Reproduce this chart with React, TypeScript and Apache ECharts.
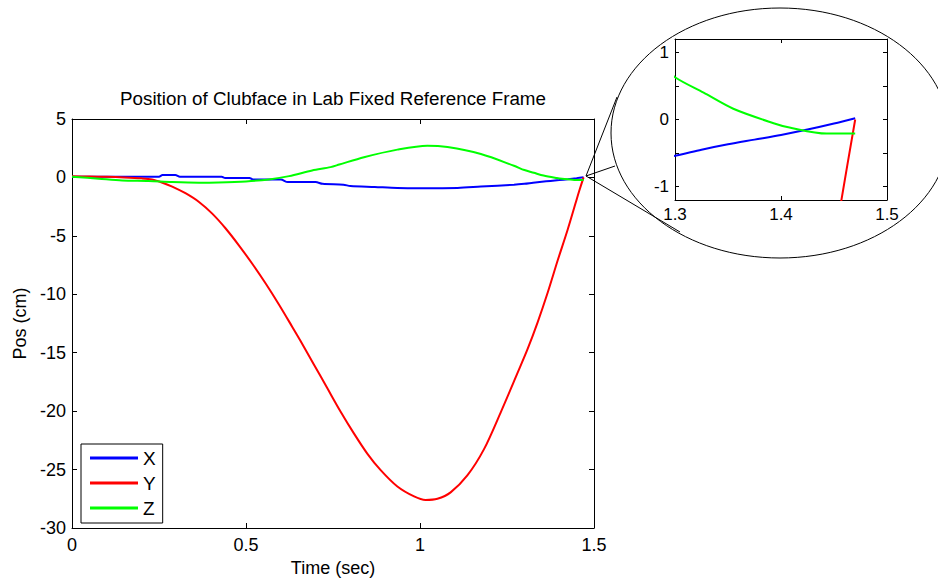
import React, { useEffect, useRef } from "react";
import * as echarts from "echarts";

// ---- Data ----
const seriesNames = ["X", "Y", "Z"];

const timeX = [0, 0.1, 0.2, 0.25, 0.26, 0.297, 0.31, 0.43, 0.44, 0.51, 0.52, 0.6, 0.62, 0.7, 0.72, 0.78, 0.8, 0.87, 0.935, 1.0, 1.108, 1.175, 1.27, 1.3, 1.325, 1.35, 1.375, 1.4, 1.425, 1.45, 1.47];
const posX = [0.06, 0.06, 0.06, 0.06, 0.2, 0.2, 0.06, 0.06, -0.05, -0.05, -0.17, -0.17, -0.4, -0.4, -0.55, -0.62, -0.74, -0.82, -0.9, -0.92, -0.9, -0.78, -0.62, -0.54, -0.45, -0.37, -0.3, -0.23, -0.15, -0.06, 0.02];

const timeY = [0, 0.05, 0.1, 0.15, 0.2, 0.23, 0.26, 0.288, 0.326, 0.365, 0.403, 0.441, 0.48, 0.518, 0.557, 0.595, 0.633, 0.656, 0.695, 0.733, 0.772, 0.81, 0.849, 0.887, 0.935, 0.983, 1.016, 1.05, 1.088, 1.136, 1.184, 1.232, 1.28, 1.309, 1.338, 1.367, 1.396, 1.424, 1.448, 1.457, 1.47];
const posY = [0.1, 0.08, 0.05, 0, -0.08, -0.18, -0.45, -0.78, -1.35, -2.1, -3.1, -4.35, -5.83, -7.39, -9.1, -10.89, -12.79, -13.96, -16.0, -18.0, -20.05, -21.9, -23.65, -25.05, -26.45, -27.3, -27.6, -27.5, -26.95, -25.5, -23.25, -20.1, -16.75, -14.7, -12.4, -9.85, -7.07, -4.5, -2.1, -1.2, 0.0];

const timeZ = [0, 0.077, 0.144, 0.22, 0.288, 0.365, 0.42, 0.5, 0.566, 0.624, 0.69, 0.743, 0.768, 0.839, 0.935, 1.021, 1.079, 1.175, 1.27, 1.3, 1.327, 1.355, 1.393, 1.408, 1.443, 1.47];
const posZ = [0.06, -0.11, -0.26, -0.31, -0.4, -0.45, -0.43, -0.34, -0.17, 0.11, 0.6, 0.88, 1.1, 1.73, 2.38, 2.72, 2.6, 2.0, 1.0, 0.63, 0.4, 0.16, -0.055, -0.12, -0.21, -0.21];

const mainXTicks = { min: 0, max: 1.5, interval: 0.5 };
const mainYTicks = { min: -30, max: 5, interval: 5 };
const insetXTicks = { min: 1.3, max: 1.5, interval: 0.1 };
const insetYRange = { min: -1.2, max: 1.2 };
const insetYTickValues = [-1, -0.5, 0, 0.5, 1];
const insetYLabelValues = [-1, 0, 1];

const colors = ["#0000ff", "#ff0000", "#00ff00"];

const FONT = "'Liberation Sans', Arial, Helvetica, sans-serif";

function pairs(t: number[], v: number[]) {
  return t.map((x, i) => [x, v[i]]);
}

export default function App() {
  const ref = useRef<HTMLDivElement>(null);
  useEffect(() => {
    if (!ref.current) return;
    const chart = echarts.init(ref.current, undefined, { renderer: "svg" });
    const datasets = [pairs(timeX, posX), pairs(timeY, posY), pairs(timeZ, posZ)];

    const axisLine = { show: true, onZero: false, lineStyle: { color: "#000", width: 1 } };
    const tick = (len: number) => ({ show: true, inside: true, length: len, lineStyle: { color: "#000", width: 1 } });
    const label = (size: number, margin: number) => ({ color: "#000", fontSize: size, fontFamily: FONT, margin });

    const mainSeries = datasets.map((d, i) => ({
      name: seriesNames[i],
      type: "line",
      xAxisIndex: 0,
      yAxisIndex: 0,
      data: d,
      showSymbol: false,
      smooth: 0.3,
      color: colors[i],
      lineStyle: { color: colors[i], width: 2 },
      z: 2 + i,
    }));
    const insetSeries = datasets.map((d, i) => ({
      name: seriesNames[i],
      type: "line",
      xAxisIndex: 2,
      yAxisIndex: 2,
      data: d,
      showSymbol: false,
      smooth: 0.3,
      clip: true,
      color: colors[i],
      lineStyle: { color: colors[i], width: 2 },
      z: 12 + i,
    }));

    chart.setOption({
      animation: false,
      backgroundColor: "#fff",
      title: {
        text: "Position of Clubface in Lab Fixed Reference Frame",
        left: 333,
        top: 89,
        padding: 0,
        textAlign: "center",
        textStyle: { color: "#000", fontSize: 18.8, fontWeight: "normal", fontFamily: FONT },
      },
      legend: {
        data: seriesNames,
        orient: "vertical",
        left: 81,
        top: 444,
        icon: "rect",
        itemWidth: 48,
        itemHeight: 3,
        itemGap: 5,
        padding: [4, 7, 5, 9],
        borderColor: "#000",
        borderWidth: 1,
        backgroundColor: "#fff",
        textStyle: { color: "#000", fontSize: 19, fontFamily: FONT, lineHeight: 20 },
      },
      grid: [
        { left: 72, top: 119, width: 522, height: 411, show: false },
        { left: 675, top: 39, width: 212, height: 161, show: false, z: 10 },
      ],
      xAxis: [
        {
          type: "value", gridIndex: 0, position: "bottom", ...mainXTicks,
          axisLine, axisTick: tick(5), splitLine: { show: false },
          axisLabel: label(18, 8),
          name: "Time (sec)", nameLocation: "middle", nameGap: 31,
          nameTextStyle: { color: "#000", fontSize: 18, fontFamily: FONT },
        },
        {
          type: "value", gridIndex: 0, position: "top", ...mainXTicks,
          axisLine, axisTick: tick(5), splitLine: { show: false }, axisLabel: { show: false },
        },
        {
          type: "value", gridIndex: 1, position: "bottom", ...insetXTicks,
          axisLine, axisTick: tick(4), splitLine: { show: false },
          axisLabel: label(17, 6), z: 10,
        },
        {
          type: "value", gridIndex: 1, position: "top", ...insetXTicks,
          axisLine, axisTick: tick(4), splitLine: { show: false }, axisLabel: { show: false }, z: 10,
        },
      ],
      yAxis: [
        {
          type: "value", gridIndex: 0, position: "left", ...mainYTicks,
          axisLine, axisTick: tick(5), splitLine: { show: false },
          axisLabel: label(18, 6),
          name: "Pos (cm)", nameLocation: "middle", nameGap: 41,
          nameTextStyle: { color: "#000", fontSize: 18, fontFamily: FONT },
        },
        {
          type: "value", gridIndex: 0, position: "right", ...mainYTicks,
          axisLine, axisTick: tick(5), splitLine: { show: false }, axisLabel: { show: false },
        },
        {
          type: "value", gridIndex: 1, position: "left", ...insetYRange,
          axisLine,
          axisTick: { ...tick(4), customValues: insetYTickValues },
          splitLine: { show: false },
          axisLabel: { ...label(17, 6), customValues: insetYLabelValues },
          z: 10,
        },
        {
          type: "value", gridIndex: 1, position: "right", ...insetYRange,
          axisLine,
          axisTick: { ...tick(4), customValues: insetYTickValues },
          splitLine: { show: false }, axisLabel: { show: false }, z: 10,
        },
      ],
      graphic: [
        {
          type: "ellipse", z: -5,
          shape: { cx: 780, cy: 133, rx: 169, ry: 125 },
          style: { fill: "#fff", stroke: "#000", lineWidth: 1 },
        },
        { type: "line", z: 1, shape: { x1: 586, y1: 176, x2: 617, y2: 97 }, style: { stroke: "#000", lineWidth: 1 } },
        { type: "line", z: 1, shape: { x1: 586, y1: 176, x2: 615, y2: 166 }, style: { stroke: "#000", lineWidth: 1 } },
        { type: "line", z: 1, shape: { x1: 586, y1: 176, x2: 680, y2: 232 }, style: { stroke: "#000", lineWidth: 1 } },
      ],
      series: [...mainSeries, ...insetSeries],
    });
    return () => chart.dispose();
  }, []);
  return <div ref={ref} style={{ position: "absolute", left: 0, top: 0, width: 938, height: 582 }} />;
}
